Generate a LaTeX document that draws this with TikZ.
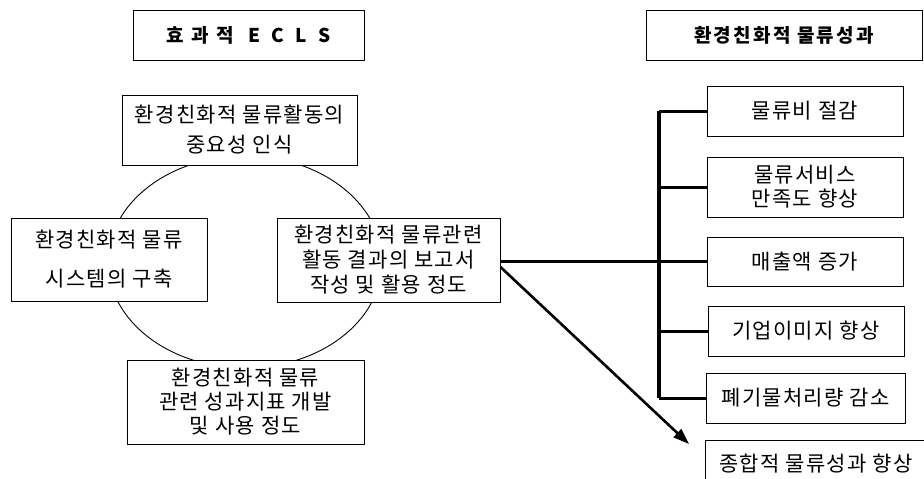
\documentclass[tikz,border=0pt]{standalone}
\usepackage{fontspec}
\setmainfont{Noto Sans CJK KR}[LetterSpace=6]
\newfontfamily\ttlfont{Noto Sans CJK KR}[LetterSpace=12]
\usetikzlibrary{arrows.meta}
\begin{document}
\begin{tikzpicture}[x=1pt,y=-1pt,
  box/.style={draw,line width=1pt,fill=white,inner sep=0pt,align=center,font=\fontsize{21}{24}\selectfont},
  titlebox/.style={box,font=\ttlfont\fontsize{19}{23}\selectfont\bfseries},
  branch/.style={line width=3pt},
  busline/.style={line width=4pt},
  ring/.style={line width=0.9pt}]
\useasboundingbox (0,0) rectangle (924,479);
% circle behind the four boxes
\draw[ring] (245,262) ellipse [x radius=137, y radius=106];
% titles
\node[titlebox,minimum width=231pt,minimum height=50pt,font=\fontsize{19}{23}\selectfont\bfseries] (tl) at (248.5,35) {효\hspace{0.4em}과\hspace{0.4em}적\hspace{0.75em}E\hspace{0.6em}C\hspace{0.6em}L\hspace{0.6em}S};
\node[titlebox,minimum width=276pt,minimum height=50pt] (tr) at (784,35) {환경친화적 물류성과};
% ECLS boxes
\node[box,minimum width=235pt,minimum height=70pt,font=\fontsize{21}{30}\selectfont] (top) at (239.5,130) {환경친화적 물류활동의\\중요성 인식};
\node[box,minimum width=196pt,minimum height=83pt,font=\fontsize{21}{39}\selectfont] (left) at (109,259.5) {환경친화적 물류\\시스템의 구축};
\node[box,minimum width=223pt,minimum height=84pt,font=\fontsize{21}{25}\selectfont] (mid) at (388.5,260) {환경친화적 물류관련\\활동 결과의 보고서\\작성 및 활용 정도};
\node[box,minimum width=237pt,minimum height=84pt] (bot) at (245.5,402) {환경친화적 물류\\관련 성과지표 개발\\및 사용 정도};
% outcome boxes
\node[box,minimum width=196pt,minimum height=50pt] (r1) at (805,111) {물류비 절감};
\node[box,minimum width=196pt,minimum height=60pt] (r2) at (805,187) {물류서비스\\만족도 향상};
\node[box,minimum width=196pt,minimum height=49pt] (r3) at (805,261.5) {매출액 증가};
\node[box,minimum width=196pt,minimum height=50pt] (r4) at (806,331) {기업이미지 향상};
\node[box,minimum width=199pt,minimum height=50pt] (r5) at (805.5,398) {폐기물처리량 감소};
\begin{scope}
\clip (0,0) rectangle (924,479);
\node[box,minimum width=222pt,minimum height=48pt] (r6) at (816,464) {종합적 물류성과 향상};
\end{scope}
% bus
\coordinate (bustop) at (659,111);
\coordinate (busbot) at (659,398);
\draw[busline] (bustop) -- (busbot);
\draw[branch] (r1.west -| bustop) -- (r1.west);
\draw[branch] (r2.west -| bustop) -- (r2.west);
\draw[branch] (r4.west -| bustop) -- (r4.west);
\draw[branch] (r5.west -| bustop) -- (r5.west);
\draw[branch] (mid.east |- r3.west) -- (r3.west);
% arrow
\coordinate (tip) at (689,444);
\draw[line width=2.6pt,-{Triangle[length=16pt,width=11pt]}] ([yshift=-7pt]mid.east) -- (tip);
\end{tikzpicture}
\end{document}
